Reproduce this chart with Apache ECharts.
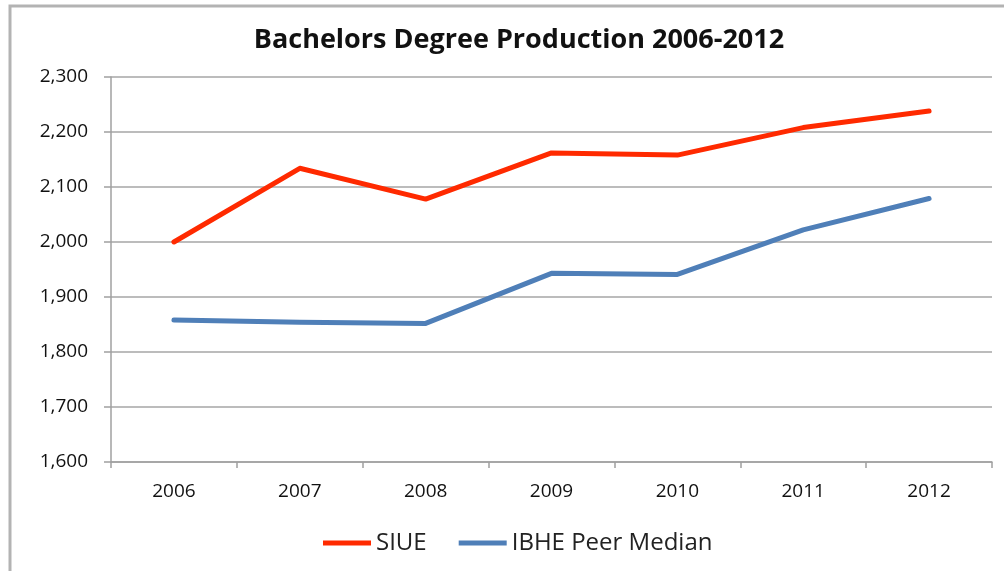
<!DOCTYPE html>
<html>
<head>
<meta charset="utf-8">
<script src="https://cdn.jsdelivr.net/npm/echarts@6/dist/echarts.min.js"></script>
<style>
  html, body { margin: 0; padding: 0; background: #fff; }
  #chart { width: 1004px; height: 571px; }
</style>
</head>
<body>
<div id="chart"></div>
<script>
const years = ['2006', '2007', '2008', '2009', '2010', '2011', '2012']
const siue = [2000, 2134, 2078, 2162, 2158, 2208, 2238]
const ibhe = [1858, 1854, 1852, 1943, 1941, 2022, 2079]

const FONT = '"Open Sans", "Liberation Sans", sans-serif'
const chart = echarts.init(document.getElementById('chart'), null, { renderer: 'canvas' })

chart.setOption({
  backgroundColor: '#fff',
  animation: false,
  graphic: [{
    type: 'rect', silent: true, z: -1,
    shape: { x: 10, y: 6, width: 1020, height: 600 },
    style: { fill: 'none', stroke: '#b3b3b3', lineWidth: 3 }
  }],
  title: {
    text: 'Bachelors Degree Production 2006-2012',
    left: 514, top: 22, textAlign: 'center',
    textStyle: { fontFamily: FONT, fontSize: 27, fontWeight: 'bold', color: '#111' }
  },
  grid: { left: 111, right: 12, top: 77, bottom: 109, containLabel: false },
  legend: {
    left: 323, top: 530, padding: 0,
    itemWidth: 48, itemHeight: 5, itemGap: 32, icon: 'rect',
    textStyle: { fontFamily: FONT, fontSize: 24, color: '#222', lineHeight: 26 },
    data: ['SIUE', 'IBHE Peer Median']
  },
  xAxis: {
    type: 'category', data: years, boundaryGap: true,
    axisLine: { lineStyle: { color: '#a0a0a0', width: 1.5 } },
    axisTick: { show: true, length: 6, lineStyle: { color: '#a0a0a0', width: 1.5 } },
    axisLabel: { fontFamily: FONT, fontSize: 19, color: '#111', margin: 20 },
    splitLine: { show: false }
  },
  yAxis: {
    type: 'value', min: 1600, max: 2300, interval: 100,
    axisLine: { show: true, lineStyle: { color: '#a0a0a0', width: 1.5 } },
    axisTick: { show: true, length: 7, lineStyle: { color: '#a0a0a0', width: 1.5 } },
    axisLabel: {
      fontFamily: FONT, fontSize: 19, color: '#111', margin: 23,
      formatter: (v) => v.toLocaleString('en-US')
    },
    splitLine: { lineStyle: { color: '#a6a6a6', width: 1.5 } }
  },
  series: [
    {
      name: 'SIUE', type: 'line', data: siue, symbol: 'none',
      itemStyle: { color: '#ff2a00' },
      lineStyle: { color: '#ff2a00', width: 5, join: 'round', cap: 'round' }
    },
    {
      name: 'IBHE Peer Median', type: 'line', data: ibhe, symbol: 'none',
      itemStyle: { color: '#4f7fb8' },
      lineStyle: { color: '#4f7fb8', width: 5, join: 'round', cap: 'round' }
    }
  ]
})
</script>
</body>
</html>
